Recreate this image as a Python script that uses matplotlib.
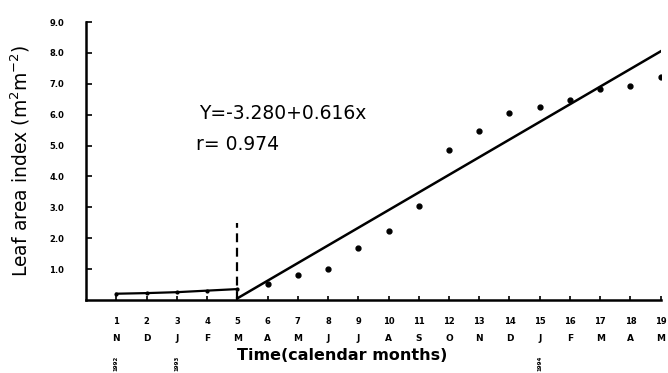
import matplotlib.pyplot as plt
import matplotlib.transforms as mtransforms

# Leaf area index observations (month number, LAI)
months = list(range(1, 20))
month_letters = ['N', 'D', 'J', 'F', 'M', 'A', 'M', 'J', 'J', 'A',
                 'S', 'O', 'N', 'D', 'J', 'F', 'M', 'A', 'M']
lai = [0.20, 0.22, 0.25, 0.30, 0.35, 0.52, 0.80, 1.00, 1.68, 2.22,
       3.03, 4.87, 5.48, 6.06, 6.26, 6.48, 6.84, 6.94, 7.23]

# fitted regression line as drawn (from month 5 onward)
fit_months = [5, 19]
fit_lai = [0.05, 8.05]

# dashed marker at month 5
cut_month = 5
cut_top = 2.5

# year labels under the axis
year_months = [1, 3, 15]
year_labels = ['1992', '1993', '1994']

fig = plt.figure(figsize=(6.68, 3.73), dpi=100)
ax = fig.add_axes([0.129, 0.196, 0.86, 0.745])

# early months joined by a line, later ones as dots
ax.plot(months[:5], lai[:5], color='black', lw=1.6, marker='o', ms=2)
ax.plot(months[5:], lai[5:], 'o', color='black', ms=3.5)
ax.plot(fit_months, fit_lai, color='black', lw=1.8)
ax.plot([cut_month, cut_month], [0, cut_top], color='black', lw=1.6,
        ls=(0, (4, 2.5)))

ax.set_xlim(0, 19)
ax.set_ylim(0, 9)
ax.spines['top'].set_visible(False)
ax.spines['right'].set_visible(False)
ax.spines['left'].set_linewidth(1.8)
ax.spines['bottom'].set_linewidth(1.8)

ax.set_yticks([1, 2, 3, 4, 5, 6, 7, 8, 9])
ax.set_yticklabels(['%.1f' % v for v in range(1, 10)], fontsize=6,
                   fontweight='bold')
ax.set_xticks(months)
ax.set_xticklabels([str(m) for m in months], fontsize=6, fontweight='bold')
ax.tick_params(axis='y', direction='in', length=4, width=1.2, pad=16)
ax.tick_params(axis='x', direction='in', length=3, width=1.2, pad=12)

trans = mtransforms.blended_transform_factory(ax.transData, fig.transFigure)
for m, letter in zip(months, month_letters):
    ax.text(m, 0.093, letter, transform=trans, ha='center', va='center',
            fontsize=6.5, fontweight='bold')
for m, yr in zip(year_months, year_labels):
    ax.text(m, 0.025, yr, transform=trans, ha='center', va='center',
            fontsize=4, fontweight='bold', rotation=90)

fig.text(0.513, 0.047, 'Time(calendar months)', ha='center', va='center',
         fontsize=11.5, fontweight='bold')
fig.text(0.03, 0.57, 'Leaf area index (m$^{2}$m$^{-2}$)', rotation=90,
         ha='center', va='center', fontsize=13.5)

ax.text(3.72, 6.03, 'Y=-3.280+0.616x', fontsize=13.5, va='center')
ax.text(3.62, 5.03, 'r= 0.974', fontsize=13.5, va='center')

fig.savefig('out.png', dpi=100)
